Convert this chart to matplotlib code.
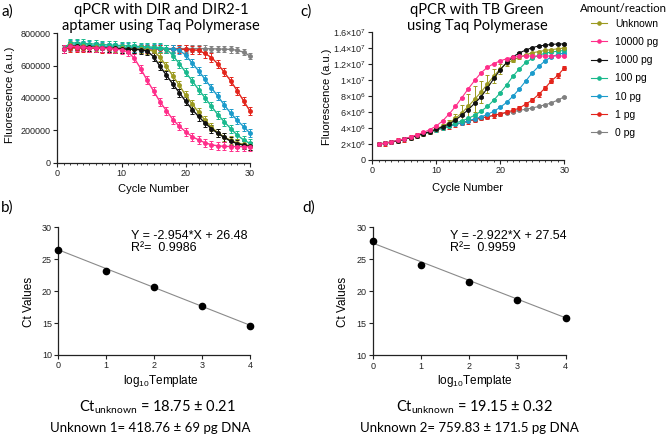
"""Recreate qPCR amplification curves and standard curves"""

import numpy as np
import matplotlib
matplotlib.use("Agg")
import matplotlib.pyplot as plt
from matplotlib.ticker import MultipleLocator, FixedLocator
from matplotlib.lines import Line2D

W, H = 667, 437

cycles = list(range(1, 31))
series_names = ["Unknown", "10000 pg", "1000 pg", "100 pg", "10 pg", "1 pg", "0 pg"]
series_colors = ["#9C9A20", "#FF2E8A", "#111111", "#19B98D", "#1B9BCB", "#E3241B", "#808080"]

# panel a: DIR / DIR2-1 aptamer fluorescence (a.u.)
unknown_a = [700, 725, 722, 720, 717, 715, 712, 710, 708, 706, 704, 702, 700, 698, 690, 652, 595, 535, 478, 415, 362, 310, 262, 218, 185, 158, 137, 122, 112, 105]
pg10000_a = [700, 720, 718, 715, 712, 710, 708, 706, 702, 698, 685, 645, 580, 508, 442, 375, 320, 266, 224, 190, 160, 140, 122, 110, 103, 100, 99, 98, 98, 98]
pg1000_a = [700, 722, 720, 717, 715, 712, 710, 708, 706, 704, 702, 700, 698, 690, 655, 595, 540, 485, 432, 378, 328, 285, 244, 210, 180, 155, 132, 117, 107, 100]
pg100_a = [700, 742, 740, 738, 735, 733, 730, 728, 726, 724, 722, 720, 718, 716, 714, 712, 705, 662, 612, 558, 505, 452, 400, 348, 296, 252, 210, 170, 140, 118]
pg10_a = [700, 735, 732, 729, 726, 723, 720, 718, 716, 714, 712, 710, 709, 708, 707, 706, 705, 703, 695, 665, 615, 568, 515, 462, 410, 356, 305, 262, 222, 182]
pg1_a = [700, 712, 710, 709, 708, 707, 706, 705, 705, 704, 704, 704, 703, 703, 703, 702, 702, 701, 700, 700, 698, 694, 675, 650, 610, 558, 505, 445, 382, 318]
pg0_a = [700, 708, 708, 708, 707, 707, 707, 707, 707, 706, 706, 706, 706, 706, 705, 705, 705, 705, 705, 705, 705, 705, 705, 704, 703, 702, 700, 695, 683, 660]
err_a = [25, 25, 25, 25, 25, 25, 20]  # thousands, per series

# panel c: TB Green fluorescence (millions)
unknown_c = [2.0, 2.1, 2.25, 2.4, 2.6, 2.8, 3.05, 3.3, 3.55, 3.9, 4.25, 4.65, 5.2, 5.9, 6.7, 7.6, 8.5, 9.5, 10.5, 11.4, 12.1, 12.5, 12.85, 13.15, 13.4, 13.55, 13.7, 13.8, 13.9, 14.0]
unknown_c_err = [0.1, 0.1, 0.1, 0.1, 0.1, 0.1, 0.1, 0.1, 0.1, 0.15, 0.2, 0.3, 0.6, 1.0, 1.5, 1.6, 1.4, 1.1, 0.9, 0.6, 0.4, 0.3, 0.2, 0.15, 0.1, 0.1, 0.1, 0.1, 0.1, 0.1]
pg10000_c = [2.0, 2.1, 2.3, 2.45, 2.65, 2.9, 3.15, 3.45, 3.8, 4.25, 4.9, 5.75, 6.7, 7.8, 8.9, 9.95, 10.9, 11.6, 12.05, 12.4, 12.65, 12.85, 12.95, 13.0, 13.0, 13.0, 13.0, 13.0, 13.0, 13.0]
pg1000_c = [2.0, 2.1, 2.25, 2.4, 2.6, 2.8, 3.05, 3.3, 3.55, 3.85, 4.15, 4.5, 5.0, 5.6, 6.3, 7.1, 7.9, 9.0, 10.2, 11.3, 12.2, 12.9, 13.4, 13.75, 14.05, 14.25, 14.35, 14.45, 14.5, 14.5]
pg100_c = [2.0, 2.1, 2.25, 2.4, 2.6, 2.8, 3.05, 3.3, 3.5, 3.8, 4.05, 4.3, 4.6, 4.9, 5.2, 5.6, 6.1, 6.7, 7.5, 8.4, 9.4, 10.5, 11.4, 12.2, 12.7, 13.1, 13.35, 13.5, 13.6, 13.7]
pg10_c = [2.0, 2.1, 2.25, 2.4, 2.6, 2.8, 3.05, 3.3, 3.5, 3.75, 4.0, 4.2, 4.45, 4.65, 4.9, 5.15, 5.4, 5.7, 6.1, 6.6, 7.2, 8.0, 8.9, 9.9, 10.9, 11.7, 12.4, 12.9, 13.2, 13.4]
pg1_c = [2.0, 2.1, 2.25, 2.4, 2.6, 2.8, 3.05, 3.3, 3.5, 3.75, 4.0, 4.2, 4.45, 4.65, 4.85, 5.05, 5.25, 5.4, 5.6, 5.75, 6.0, 6.2, 6.5, 7.0, 7.5, 8.2, 9.0, 9.9, 10.6, 11.5]
pg0_c = [2.0, 2.1, 2.25, 2.4, 2.6, 2.8, 3.05, 3.3, 3.5, 3.75, 4.0, 4.2, 4.45, 4.65, 4.85, 5.05, 5.25, 5.4, 5.6, 5.75, 5.9, 6.05, 6.2, 6.35, 6.5, 6.7, 6.9, 7.15, 7.5, 7.9]
err_c = [0.1, 0.1, 0.1, 0.1, 0.1, 0.3, 0.1]

# standard curves
log_template = [0, 1, 2, 3, 4]
ct_b = [26.5, 23.2, 20.7, 17.6, 14.5]
ct_d = [27.9, 24.1, 21.5, 18.7, 15.9]
fit_b = (-2.954, 26.48, 0.9986)
fit_d = (-2.922, 27.54, 0.9959)
c_ticks = [0, 2e6, 4e6, 6e6, 8e6, 1e7, 1.2e7, 1.4e7, 1.6e7]
c_ticklabels = ["0", "2×10$^{\\mathregular{6}}$", "4×10$^{\\mathregular{6}}$", "6×10$^{\\mathregular{6}}$",
	"8×10$^{\\mathregular{6}}$", "1×10$^{\\mathregular{7}}$", "1.2×10$^{\\mathregular{7}}$",
	"1.4×10$^{\\mathregular{7}}$", "1.6×10$^{\\mathregular{7}}$"]

SANS = "Liberation Sans"
CAL = "Lato"
plt.rcParams["font.family"] = [SANS, "DejaVu Sans"]
plt.rcParams["mathtext.fontset"] = "custom"
plt.rcParams["mathtext.rm"] = SANS


def px_axes(fig, left, top, right, bottom):
	return fig.add_axes([left / W, 1 - bottom / H, (right - left) / W, (bottom - top) / H])


def ftext(fig, x, y, s, **kw):
	return fig.text(x / W, 1 - y / H, s, **kw)


def style_axes(ax):
	for side in ("top", "right"):
		ax.spines[side].set_visible(False)
	for side in ("left", "bottom"):
		ax.spines[side].set_linewidth(0.9)
		ax.spines[side].set_color("#222222")
	ax.tick_params(which="major", length=3, width=0.8, labelsize=6.5, pad=1.5, colors="#222222")
	ax.tick_params(which="minor", length=1.5, width=0.6, colors="#222222")


def label_at(ax, axis, x, y, text, size=8):
	"""Place an axis label centre at figure pixel (x, y)."""
	bbox = ax.get_position()
	ax_x = (x / W - bbox.x0) / bbox.width
	ax_y = ((1 - y / H) - bbox.y0) / bbox.height
	if axis == "y":
		lab = ax.set_ylabel(text, fontsize=size)
		ax.yaxis.set_label_coords(ax_x, ax_y)
	else:
		lab = ax.set_xlabel(text, fontsize=size)
		ax.xaxis.set_label_coords(ax_x, ax_y)
	lab.set_va("center")
	lab.set_ha("center")


def draw_curves(ax, data, errs, lw, ms):
	order = [6, 5, 4, 3, 0, 2, 1]
	for i in order:
		ax.errorbar(cycles, data[i], yerr=errs[i], color=series_colors[i], lw=lw,
			marker="o", ms=ms, elinewidth=0.7, capsize=1.5, capthick=0.7,
			clip_on=False, zorder=3)


def main():
	fig = plt.figure(figsize=(W / 100, H / 100), dpi=100)

	# panel a
	ax_a = px_axes(fig, 57.3, 33.3, 250, 162.5)
	style_axes(ax_a)
	data_a = [np.array(s) * 1000 for s in [unknown_a, pg10000_a, pg1000_a, pg100_a, pg10_a, pg1_a, pg0_a]]
	draw_curves(ax_a, data_a, [e * 1000 for e in err_a], 1.0, 2.5)
	ax_a.set_xlim(0, 30)
	ax_a.set_ylim(0, 800000)
	ax_a.xaxis.set_major_locator(MultipleLocator(10))
	ax_a.xaxis.set_minor_locator(MultipleLocator(1))
	ax_a.yaxis.set_major_locator(MultipleLocator(200000))
	label_at(ax_a, "y", 10, 95, "Fluorescence (a.u.)")
	label_at(ax_a, "x", 153, 189, "Cycle Number")

	# panel c
	ax_c = px_axes(fig, 372.3, 32, 564.3, 160)
	style_axes(ax_c)
	data_c = [np.array(s) * 1e6 for s in [unknown_c, pg10000_c, pg1000_c, pg100_c, pg10_c, pg1_c, pg0_c]]
	errs_c = [np.array(unknown_c_err) * 1e6] + [e * 1e6 for e in err_c[1:]]
	draw_curves(ax_c, data_c, errs_c, 0.8, 2.5)
	ax_c.set_xlim(0, 30)
	ax_c.set_ylim(0, 1.6e7)
	ax_c.xaxis.set_major_locator(MultipleLocator(10))
	ax_c.xaxis.set_minor_locator(MultipleLocator(1))
	ax_c.yaxis.set_major_locator(FixedLocator(c_ticks))
	ax_c.set_yticklabels(c_ticklabels)
	label_at(ax_c, "y", 327, 97, "Fluorescence (a.u.)")
	label_at(ax_c, "x", 468, 188, "Cycle Number")

	# standard curves b and d
	for rect, ct, fit, lab_x, lab_y_x, eq_x in [
		((58.3, 227.3, 250, 355), ct_b, fit_b, 161, 29, 131),
		((372.7, 227.3, 565.7, 355.3), ct_d, fit_d, 475, 343, 450),
	]:
		ax = px_axes(fig, *rect)
		style_axes(ax)
		xs = np.array(log_template)
		ax.plot(xs, fit[0] * xs + fit[1], color="#8a8a8a", lw=0.8, zorder=2)
		ax.plot(log_template, ct, "o", color="black", ms=4.5, clip_on=False, zorder=3)
		ax.set_xlim(0, 4)
		ax.set_ylim(10, 30)
		ax.xaxis.set_major_locator(MultipleLocator(1))
		ax.yaxis.set_major_locator(MultipleLocator(5))
		label_at(ax, "y", lab_y_x, 302, "Ct Values", size=8.5)
		label_at(ax, "x", lab_x, 381, "log$_{\\mathregular{10}}$Template", size=8.5)
		ftext(fig, eq_x, 236, "Y = %.3f*X + %.2f" % (fit[0], fit[1]), fontsize=9, va="center")
		ftext(fig, eq_x, 248, "R²=  %.4f" % fit[2], fontsize=9, va="center")

	# titles and panel letters
	ftext(fig, 161, 18, "qPCR with DIR and DIR2-1\naptamer using Taq Polymerase",
		family=CAL, fontsize=10.5, ha="center", va="center", linespacing=1.15)
	ftext(fig, 477, 18, "qPCR with TB Green\nusing Taq Polymerase",
		family=CAL, fontsize=10.5, ha="center", va="center", linespacing=1.15)
	for x, y, s in [(1, 12, "a)"), (300, 12, "c)"), (1, 208, "b)"), (302, 208, "d)")]:
		ftext(fig, x, y, s, family=CAL, fontsize=11, va="center")

	# results under the standard curves
	ftext(fig, 157, 407, "Ct$_{\\mathregular{unknown}}$ = 18.75 ± 0.21", family=CAL, fontsize=10.5, ha="center", va="center")
	ftext(fig, 150, 428, "Unknown 1= 418.76 ± 69 pg DNA", family=CAL, fontsize=9.5, ha="center", va="center")
	ftext(fig, 474, 407, "Ct$_{\\mathregular{unknown}}$ = 19.15 ± 0.32", family=CAL, fontsize=10.5, ha="center", va="center")
	ftext(fig, 469, 428, "Unknown 2= 759.83 ± 171.5 pg DNA", family=CAL, fontsize=9.5, ha="center", va="center")

	# legend
	ftext(fig, 580, 9, "Amount/reaction", family=CAL, fontsize=8.3, va="center")
	handles = [Line2D([], [], color=c, lw=0.8, marker="o", ms=2.3) for c in series_colors]
	fig.legend(handles, series_names, loc="upper left", bbox_to_anchor=(591 / W, 1 - 19 / H),
		frameon=False, fontsize=7.5, handlelength=1.55, handletextpad=0.75, labelspacing=0.78,
		borderpad=0, borderaxespad=0)

	fig.savefig("out.png", dpi=100)
	plt.close(fig)


if __name__ == "__main__":
	main()
